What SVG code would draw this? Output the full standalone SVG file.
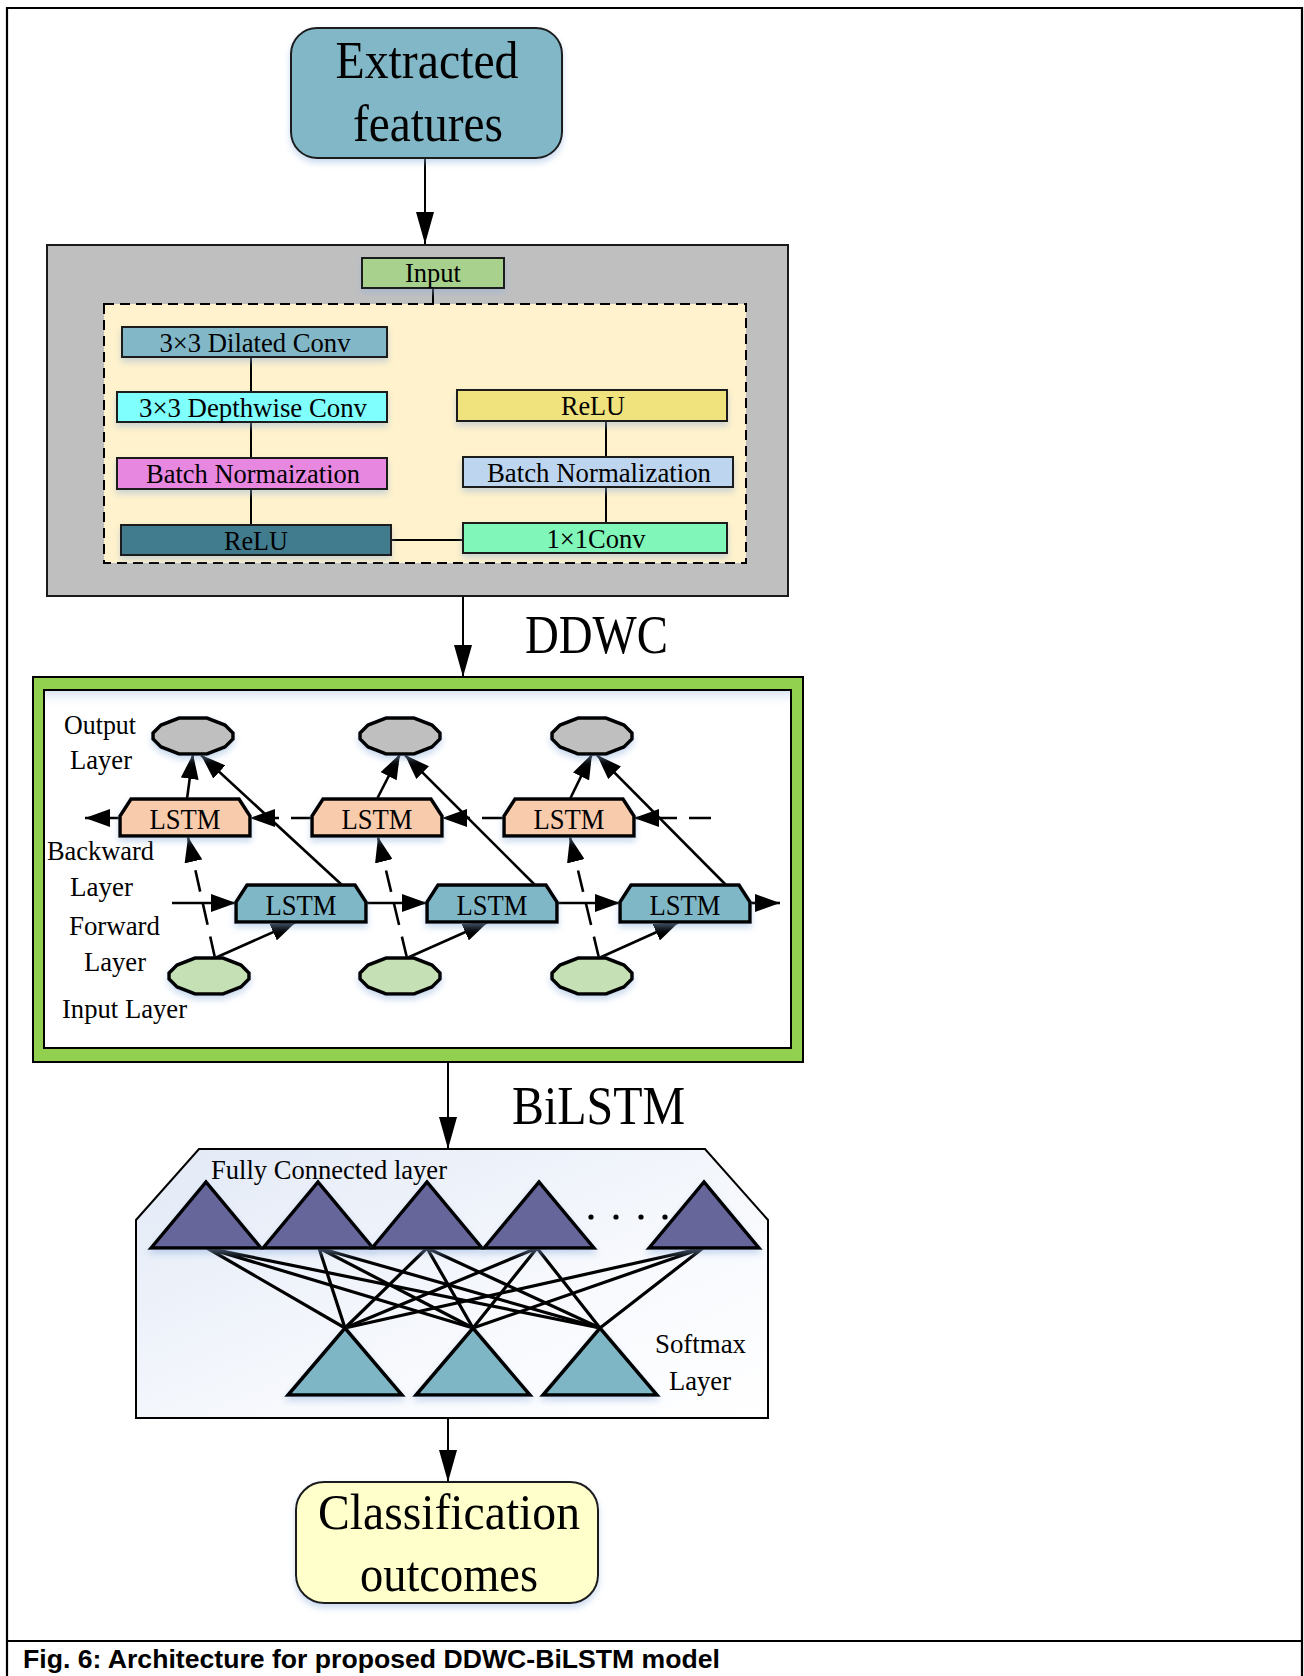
<svg xmlns="http://www.w3.org/2000/svg" xmlns:xlink="http://www.w3.org/1999/xlink" width="1304" height="1676" viewBox="0 0 1304 1676">
  <defs>
    <style>
      .serif { font-family: "Liberation Serif", "Times New Roman", serif; fill: #000; }
      .cap { font-family: "Liberation Sans", Arial, sans-serif; font-weight: bold; fill: #000; }
      .frame { fill: none; stroke: #000; stroke-width: 2.2; }
      .blk { stroke: #1a1a1a; stroke-width: 2; }
      .thick { stroke: #000; stroke-width: 3.5; stroke-linejoin: miter; }
      .link { fill: none; stroke: #000; stroke-width: 2; }
      .lnk { fill: none; stroke: #000; stroke-width: 2.6; }
      .dash { fill: none; stroke: #000; stroke-width: 2.6; stroke-dasharray: 22 12; }
      .fcl { fill: none; stroke: #000; stroke-width: 3.2; }
    </style>
    <filter id="sh" x="-20%" y="-20%" width="140%" height="160%">
      <feDropShadow dx="0" dy="4" stdDeviation="3" flood-color="#8eaedb" flood-opacity="0.45"/>
    </filter>
    <linearGradient id="fcFill" x1="0" y1="0" x2="1" y2="1">
      <stop offset="0" stop-color="#e2e9f6"/>
      <stop offset="0.6" stop-color="#f7f9fd"/>
      <stop offset="1" stop-color="#ffffff"/>
    </linearGradient>
    <linearGradient id="topGlow" x1="0" y1="0" x2="0" y2="1">
      <stop offset="0" stop-color="#dbe5f3"/>
      <stop offset="1" stop-color="#ffffff" stop-opacity="0"/>
    </linearGradient>
    <marker id="arMain" viewBox="0 0 32 18" refX="32" refY="9" markerWidth="32" markerHeight="18" markerUnits="userSpaceOnUse" orient="auto">
      <path d="M0,0 L32,9 L0,18 Z" fill="#000"/>
    </marker>
    <marker id="ar" viewBox="0 0 25 18" refX="25" refY="9" markerWidth="25" markerHeight="18" markerUnits="userSpaceOnUse" orient="auto">
      <path d="M0,0 L25,9 L0,18 Z" fill="#000"/>
    </marker>
    <polygon id="oct" points="-14,-18 14,-18 32,-11 40,-3 40,3 32,11 14,18 -14,18 -32,11 -40,3 -40,-3 -32,-11"/>
    <path id="lstm" d="M0,37 L0,17 L11,0 L119,0 L130,17 L130,37 Z"/>
    <path id="triFc" d="M0,66 L55,0 L110,66 Z"/>
    <path id="triSm" d="M0,67 L57,0 L114,67 Z"/>
  </defs>

  <rect width="1304" height="1676" fill="#ffffff"/>

  <!-- page frame and caption rule -->
  <g id="frame">
    <path class="frame" d="M7,1680 L7,8 L1302,8 L1302,1680"/>
    <line class="frame" x1="7" y1="1641" x2="1302" y2="1641"/>
  </g>

  <!-- connectors between the main stages -->
  <g id="connectors">
    <line class="link" x1="425" y1="158" x2="425" y2="244" marker-end="url(#arMain)"/>
    <line class="link" x1="463" y1="596" x2="463" y2="677" marker-end="url(#arMain)"/>
    <line class="link" x1="448" y1="1062" x2="448" y2="1149" marker-end="url(#arMain)"/>
    <line class="link" x1="448" y1="1418" x2="448" y2="1482" marker-end="url(#arMain)"/>
  </g>

  <!-- source node -->
  <g id="extracted-features">
    <rect x="291" y="28" width="271" height="130" rx="26" fill="#81b7c7" class="blk" filter="url(#sh)"/>
    <text class="serif" x="427" y="78" font-size="53" text-anchor="middle" textLength="183" lengthAdjust="spacingAndGlyphs">Extracted</text>
    <text class="serif" x="428" y="141" font-size="53" text-anchor="middle" textLength="150" lengthAdjust="spacingAndGlyphs">features</text>
  </g>

  <!-- DDWC block -->
  <g id="ddwc">
    <rect x="47" y="245" width="741" height="351" fill="#bfbfbf" class="blk"/>
    <rect x="104" y="304" width="642" height="259" fill="#fff2cc" stroke="#000" stroke-width="2" stroke-dasharray="10 6"/>
    <g id="ddwc-links">
      <line class="link" x1="433" y1="288" x2="433" y2="304"/>
      <line class="link" x1="251" y1="357" x2="251" y2="525"/>
      <line class="link" x1="606" y1="421" x2="606" y2="523"/>
      <line class="link" x1="391" y1="540" x2="463" y2="540"/>
    </g>
    <g id="ddwc-input">
      <rect x="362" y="258" width="142" height="30" fill="#a9d18e" class="blk" filter="url(#sh)"/>
      <text class="serif" x="433" y="282" font-size="28" text-anchor="middle" textLength="56" lengthAdjust="spacingAndGlyphs">Input</text>
    </g>
    <g id="dilated-conv">
      <rect x="122" y="327" width="265" height="30" fill="#82b7c8" class="blk" filter="url(#sh)"/>
      <text class="serif" x="255" y="352" font-size="28" text-anchor="middle" textLength="191" lengthAdjust="spacingAndGlyphs">3×3 Dilated Conv</text>
    </g>
    <g id="depthwise-conv">
      <rect x="117" y="392" width="270" height="30" fill="#80ffff" class="blk" filter="url(#sh)"/>
      <text class="serif" x="253" y="417" font-size="28" text-anchor="middle" textLength="228" lengthAdjust="spacingAndGlyphs">3×3 Depthwise Conv</text>
    </g>
    <g id="bn-left">
      <rect x="117" y="458" width="270" height="31" fill="#e887e0" class="blk" filter="url(#sh)"/>
      <text class="serif" x="253" y="483" font-size="28" text-anchor="middle" textLength="214" lengthAdjust="spacingAndGlyphs">Batch Normaization</text>
    </g>
    <g id="relu-left">
      <rect x="121" y="525" width="270" height="30" fill="#3f7c8e" class="blk" filter="url(#sh)"/>
      <text class="serif" x="256" y="550" font-size="28" text-anchor="middle" textLength="64" lengthAdjust="spacingAndGlyphs">ReLU</text>
    </g>
    <g id="relu-right">
      <rect x="457" y="390" width="270" height="31" fill="#f0e37e" class="blk" filter="url(#sh)"/>
      <text class="serif" x="593" y="415" font-size="28" text-anchor="middle" textLength="64" lengthAdjust="spacingAndGlyphs">ReLU</text>
    </g>
    <g id="bn-right">
      <rect x="463" y="457" width="270" height="30" fill="#bdd5ee" class="blk" filter="url(#sh)"/>
      <text class="serif" x="599" y="482" font-size="28" text-anchor="middle" textLength="224" lengthAdjust="spacingAndGlyphs">Batch Normalization</text>
    </g>
    <g id="conv1x1">
      <rect x="463" y="523" width="264" height="30" fill="#80f7b9" class="blk" filter="url(#sh)"/>
      <text class="serif" x="596" y="548" font-size="28" text-anchor="middle" textLength="99" lengthAdjust="spacingAndGlyphs">1×1Conv</text>
    </g>
  </g>
  <text id="ddwc-label" class="serif" x="525" y="653" font-size="54" textLength="143" lengthAdjust="spacingAndGlyphs">DDWC</text>

  <!-- BiLSTM block -->
  <g id="bilstm">
    <rect x="33" y="677" width="770" height="385" fill="#92d050" stroke="#000" stroke-width="2"/>
    <rect x="44" y="690" width="747" height="358" fill="#ffffff" stroke="#000" stroke-width="2"/>
    <rect x="45" y="691" width="745" height="18" fill="url(#topGlow)"/>

    <g id="bilstm-labels">
      <text class="serif" x="64" y="734" font-size="28" textLength="72" lengthAdjust="spacingAndGlyphs">Output</text>
      <text class="serif" x="70" y="769" font-size="28" textLength="62" lengthAdjust="spacingAndGlyphs">Layer</text>
      <text class="serif" x="47" y="860" font-size="28" textLength="107" lengthAdjust="spacingAndGlyphs">Backward</text>
      <text class="serif" x="70" y="896" font-size="28" textLength="63" lengthAdjust="spacingAndGlyphs">Layer</text>
      <text class="serif" x="69" y="935" font-size="28" textLength="91" lengthAdjust="spacingAndGlyphs">Forward</text>
      <text class="serif" x="84" y="971" font-size="28" textLength="62" lengthAdjust="spacingAndGlyphs">Layer</text>
      <text class="serif" x="62" y="1018" font-size="28" textLength="125" lengthAdjust="spacingAndGlyphs">Input Layer</text>
    </g>

    <g id="bilstm-links">
      <!-- backward direction (dashed, right to left) -->
      <line class="dash" x1="711" y1="818" x2="634" y2="818" marker-end="url(#ar)"/>
      <line class="dash" x1="504" y1="818" x2="442" y2="818" marker-end="url(#ar)"/>
      <line class="dash" x1="313" y1="818" x2="250" y2="818" marker-end="url(#ar)"/>
      <line class="lnk" x1="121" y1="818" x2="85" y2="818" marker-end="url(#ar)"/>
      <!-- forward direction (solid, left to right) -->
      <line class="lnk" x1="172" y1="903" x2="236" y2="903" marker-end="url(#ar)"/>
      <line class="lnk" x1="366" y1="903" x2="427" y2="903" marker-end="url(#ar)"/>
      <line class="lnk" x1="557" y1="903" x2="620" y2="903" marker-end="url(#ar)"/>
      <line class="lnk" x1="750" y1="903" x2="780" y2="903" marker-end="url(#ar)"/>
      <!-- backward cells to outputs -->
      <line class="lnk" x1="187" y1="799" x2="193" y2="754" marker-end="url(#ar)"/>
      <line class="lnk" x1="377" y1="799" x2="400" y2="754" marker-end="url(#ar)"/>
      <line class="lnk" x1="570" y1="799" x2="592" y2="754" marker-end="url(#ar)"/>
      <!-- forward cells to outputs -->
      <line class="lnk" x1="342" y1="885" x2="201" y2="755" marker-end="url(#ar)"/>
      <line class="lnk" x1="535" y1="885" x2="405" y2="755" marker-end="url(#ar)"/>
      <line class="lnk" x1="726" y1="885" x2="597" y2="755" marker-end="url(#ar)"/>
      <!-- inputs to backward cells -->
      <line class="dash" x1="215" y1="958" x2="188" y2="837" marker-end="url(#ar)"/>
      <line class="dash" x1="407" y1="958" x2="378" y2="837" marker-end="url(#ar)"/>
      <line class="dash" x1="599" y1="958" x2="570" y2="837" marker-end="url(#ar)"/>
      <!-- inputs to forward cells -->
      <line class="lnk" x1="215" y1="958" x2="296" y2="922" marker-end="url(#ar)"/>
      <line class="lnk" x1="407" y1="958" x2="488" y2="922" marker-end="url(#ar)"/>
      <line class="lnk" x1="599" y1="958" x2="679" y2="922" marker-end="url(#ar)"/>
    </g>

    <g id="out1"><use href="#oct" x="193" y="736" fill="#bfbfbf" class="thick" filter="url(#sh)"/></g>
    <g id="out2"><use href="#oct" x="400" y="736" fill="#bfbfbf" class="thick" filter="url(#sh)"/></g>
    <g id="out3"><use href="#oct" x="592" y="736" fill="#bfbfbf" class="thick" filter="url(#sh)"/></g>

    <g id="bwd1"><use href="#lstm" x="120" y="799" fill="#f8cbad" class="thick" filter="url(#sh)"/>
      <text class="serif" x="185" y="829" font-size="30" text-anchor="middle" textLength="71" lengthAdjust="spacingAndGlyphs">LSTM</text></g>
    <g id="bwd2"><use href="#lstm" x="312" y="799" fill="#f8cbad" class="thick" filter="url(#sh)"/>
      <text class="serif" x="377" y="829" font-size="30" text-anchor="middle" textLength="71" lengthAdjust="spacingAndGlyphs">LSTM</text></g>
    <g id="bwd3"><use href="#lstm" x="504" y="799" fill="#f8cbad" class="thick" filter="url(#sh)"/>
      <text class="serif" x="569" y="829" font-size="30" text-anchor="middle" textLength="71" lengthAdjust="spacingAndGlyphs">LSTM</text></g>

    <g id="fwd1"><use href="#lstm" x="236" y="885" fill="#7fb7c7" class="thick" filter="url(#sh)"/>
      <text class="serif" x="301" y="915" font-size="30" text-anchor="middle" textLength="71" lengthAdjust="spacingAndGlyphs">LSTM</text></g>
    <g id="fwd2"><use href="#lstm" x="427" y="885" fill="#7fb7c7" class="thick" filter="url(#sh)"/>
      <text class="serif" x="492" y="915" font-size="30" text-anchor="middle" textLength="71" lengthAdjust="spacingAndGlyphs">LSTM</text></g>
    <g id="fwd3"><use href="#lstm" x="620" y="885" fill="#7fb7c7" class="thick" filter="url(#sh)"/>
      <text class="serif" x="685" y="915" font-size="30" text-anchor="middle" textLength="71" lengthAdjust="spacingAndGlyphs">LSTM</text></g>

    <g id="in1"><use href="#oct" x="209" y="976" fill="#c5e0b4" class="thick" filter="url(#sh)"/></g>
    <g id="in2"><use href="#oct" x="400" y="976" fill="#c5e0b4" class="thick" filter="url(#sh)"/></g>
    <g id="in3"><use href="#oct" x="592" y="976" fill="#c5e0b4" class="thick" filter="url(#sh)"/></g>
  </g>
  <text id="bilstm-label" class="serif" x="512" y="1124" font-size="55" textLength="173" lengthAdjust="spacingAndGlyphs">BiLSTM</text>

  <!-- fully connected + softmax block -->
  <g id="fc-softmax">
    <path d="M136,1418 L136,1220 L199,1149 L705,1149 L768,1220 L768,1418 Z" fill="url(#fcFill)" stroke="#000" stroke-width="2"/>
    <text class="serif" x="211" y="1179" font-size="28" textLength="236" lengthAdjust="spacingAndGlyphs">Fully Connected layer</text>

    <g id="fc-links">
      <path class="fcl" d="M207,1248 L345,1328 M207,1248 L473,1328 M207,1248 L600,1328"/>
      <path class="fcl" d="M319,1248 L345,1328 M319,1248 L473,1328 M319,1248 L600,1328"/>
      <path class="fcl" d="M427,1248 L345,1328 M427,1248 L473,1328 M427,1248 L600,1328"/>
      <path class="fcl" d="M537,1248 L345,1328 M537,1248 L473,1328 M537,1248 L600,1328"/>
      <path class="fcl" d="M703,1248 L345,1328 M703,1248 L473,1328 M703,1248 L600,1328"/>
    </g>

    <g id="fc1"><use href="#triFc" x="151" y="1182" fill="#66669a" class="thick" filter="url(#sh)"/></g>
    <g id="fc2"><use href="#triFc" x="263" y="1182" fill="#66669a" class="thick" filter="url(#sh)"/></g>
    <g id="fc3"><use href="#triFc" x="372" y="1182" fill="#66669a" class="thick" filter="url(#sh)"/></g>
    <g id="fc4"><use href="#triFc" x="484" y="1182" fill="#66669a" class="thick" filter="url(#sh)"/></g>
    <g id="fc5"><use href="#triFc" x="649" y="1182" fill="#66669a" class="thick" filter="url(#sh)"/></g>
    <g id="fc-dots" fill="#000">
      <circle cx="591" cy="1217" r="2.6"/>
      <circle cx="616" cy="1217" r="2.6"/>
      <circle cx="641" cy="1217" r="2.6"/>
      <circle cx="665" cy="1217" r="2.6"/>
    </g>

    <g id="sm1"><use href="#triSm" x="288" y="1328" fill="#7fb6c6" class="thick" filter="url(#sh)"/></g>
    <g id="sm2"><use href="#triSm" x="416" y="1328" fill="#7fb6c6" class="thick" filter="url(#sh)"/></g>
    <g id="sm3"><use href="#triSm" x="543" y="1328" fill="#7fb6c6" class="thick" filter="url(#sh)"/></g>

    <text class="serif" x="655" y="1353" font-size="28" textLength="91" lengthAdjust="spacingAndGlyphs">Softmax</text>
    <text class="serif" x="669" y="1390" font-size="28" textLength="62" lengthAdjust="spacingAndGlyphs">Layer</text>
  </g>

  <!-- result node -->
  <g id="classification-outcomes">
    <rect x="296" y="1482" width="302" height="121" rx="28" fill="#ffffcc" class="blk" filter="url(#sh)"/>
    <text class="serif" x="449" y="1529" font-size="50" text-anchor="middle" textLength="262" lengthAdjust="spacingAndGlyphs">Classification</text>
    <text class="serif" x="449" y="1591" font-size="50" text-anchor="middle" textLength="178" lengthAdjust="spacingAndGlyphs">outcomes</text>
  </g>

  <text id="caption" class="cap" x="23" y="1668" font-size="26" textLength="697" lengthAdjust="spacingAndGlyphs">Fig. 6: Architecture for proposed DDWC-BiLSTM model</text>
</svg>
